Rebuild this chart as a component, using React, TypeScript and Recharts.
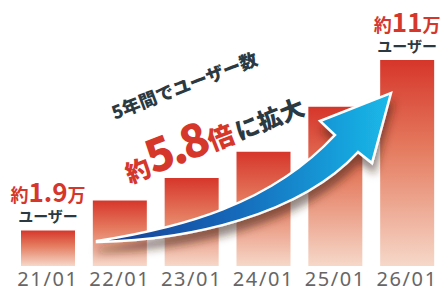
import React from 'react';
import { BarChart, Bar, XAxis, YAxis, LabelList } from 'recharts';

// years (yy/mm) and users in 10k units
const periods = ['21/01', '22/01', '23/01', '24/01', '25/01', '26/01'];
const users = [1.9, 3.5, 4.7, 6.1, 8.5, 11];
const callouts = ['1.9', '', '', '', '', '11'];

const data = periods.map((period, i) => ({ period, users: users[i], callout: callouts[i] }));

const JP = "'Noto Sans CJK JP', 'Noto Sans', sans-serif";
const RED = '#d6372b';
const DARK = '#2b3a42';

const Callout = (props: any) => {
    const { x, y, width, value } = props;
    if (!value) return null;
    const cx = x + width / 2;
    return (
        <g fontFamily={JP} fontWeight={700} textAnchor="middle">
            <text x={cx} y={y - 28} fill={RED}>
                <tspan fontSize={18}>約</tspan>
                <tspan fontSize={26}>{value}</tspan>
                <tspan fontSize={18}>万</tspan>
            </text>
            <text x={cx} y={y - 8} fill={DARK} fontSize={15}>
                ユーザー
            </text>
        </g>
    );
};

// growth arrow and rotated headline, drawn on top of the bars
const Overlay = () => (
    <svg
        width={443}
        height={291}
        style={{ position: 'absolute', left: 0, top: 0, pointerEvents: 'none' }}
    >
        <defs>
            <linearGradient id="barFill" x1="0" y1="0" x2="0" y2="1">
                <stop offset="0%" stopColor="#d6362a" />
                <stop offset="45%" stopColor="#e57e62" />
                <stop offset="100%" stopColor="#f6d8c9" />
            </linearGradient>
            <linearGradient id="arrowFill" x1="0" y1="0" x2="1" y2="0">
                <stop offset="0%" stopColor="#1b3d92" />
                <stop offset="45%" stopColor="#1466b8" />
                <stop offset="100%" stopColor="#1abaea" />
            </linearGradient>
            <filter id="arrowShadow" x="-20%" y="-20%" width="140%" height="160%">
                <feDropShadow dx="2" dy="9" stdDeviation="4" floodColor="#3a1a10" floodOpacity="0.55" />
            </filter>
        </defs>
        <path
            d="M 97 241 C 180 228, 270 205, 335 135 L 320 121 L 391 93 L 372 163 L 358 152 C 300 215, 190 240, 97 242 Z"
            fill="url(#arrowFill)"
            stroke="#ffffff"
            strokeWidth={2.5}
            filter="url(#arrowShadow)"
        />
        <g fontFamily={JP} fontWeight={900} textAnchor="middle">
            <text x={187} y={92} fontSize={18} fill={DARK} transform="rotate(-21 187 92)">
                5年間でユーザー数
            </text>
            <text x={218} y={149} fill={RED} transform="rotate(-21.5 218 149)">
                <tspan fontSize={25}>約</tspan>
                <tspan fontSize={45} letterSpacing={-3}>5.8</tspan>
                <tspan fontSize={26} dx={2}>倍</tspan>
                <tspan fontSize={24} fill={DARK} dx={3}>に拡大</tspan>
            </text>
        </g>
    </svg>
);

const App: React.FC = () => {
    return (
        <div style={{ position: 'absolute', left: 0, top: 0, width: 443, height: 291, background: '#ffffff' }}>
            <BarChart
                width={443}
                height={291}
                data={data}
                margin={{ top: 60, right: 0, left: 12, bottom: 0 }}
                barCategoryGap={9}
            >
                <XAxis
                    dataKey="period"
                    axisLine={false}
                    tickLine={false}
                    tickMargin={0}
                    height={25}
                    interval={0}
                    tick={{ fill: '#666666', fontSize: 20, fontFamily: "'Noto Sans', sans-serif", letterSpacing: 1.6 }}
                />
                <YAxis hide domain={[0, 11]} />
                <Bar dataKey="users" fill="url(#barFill)" isAnimationActive={false}>
                    <LabelList dataKey="callout" content={<Callout />} />
                </Bar>
            </BarChart>
            <Overlay />
        </div>
    );
};

export default App;
